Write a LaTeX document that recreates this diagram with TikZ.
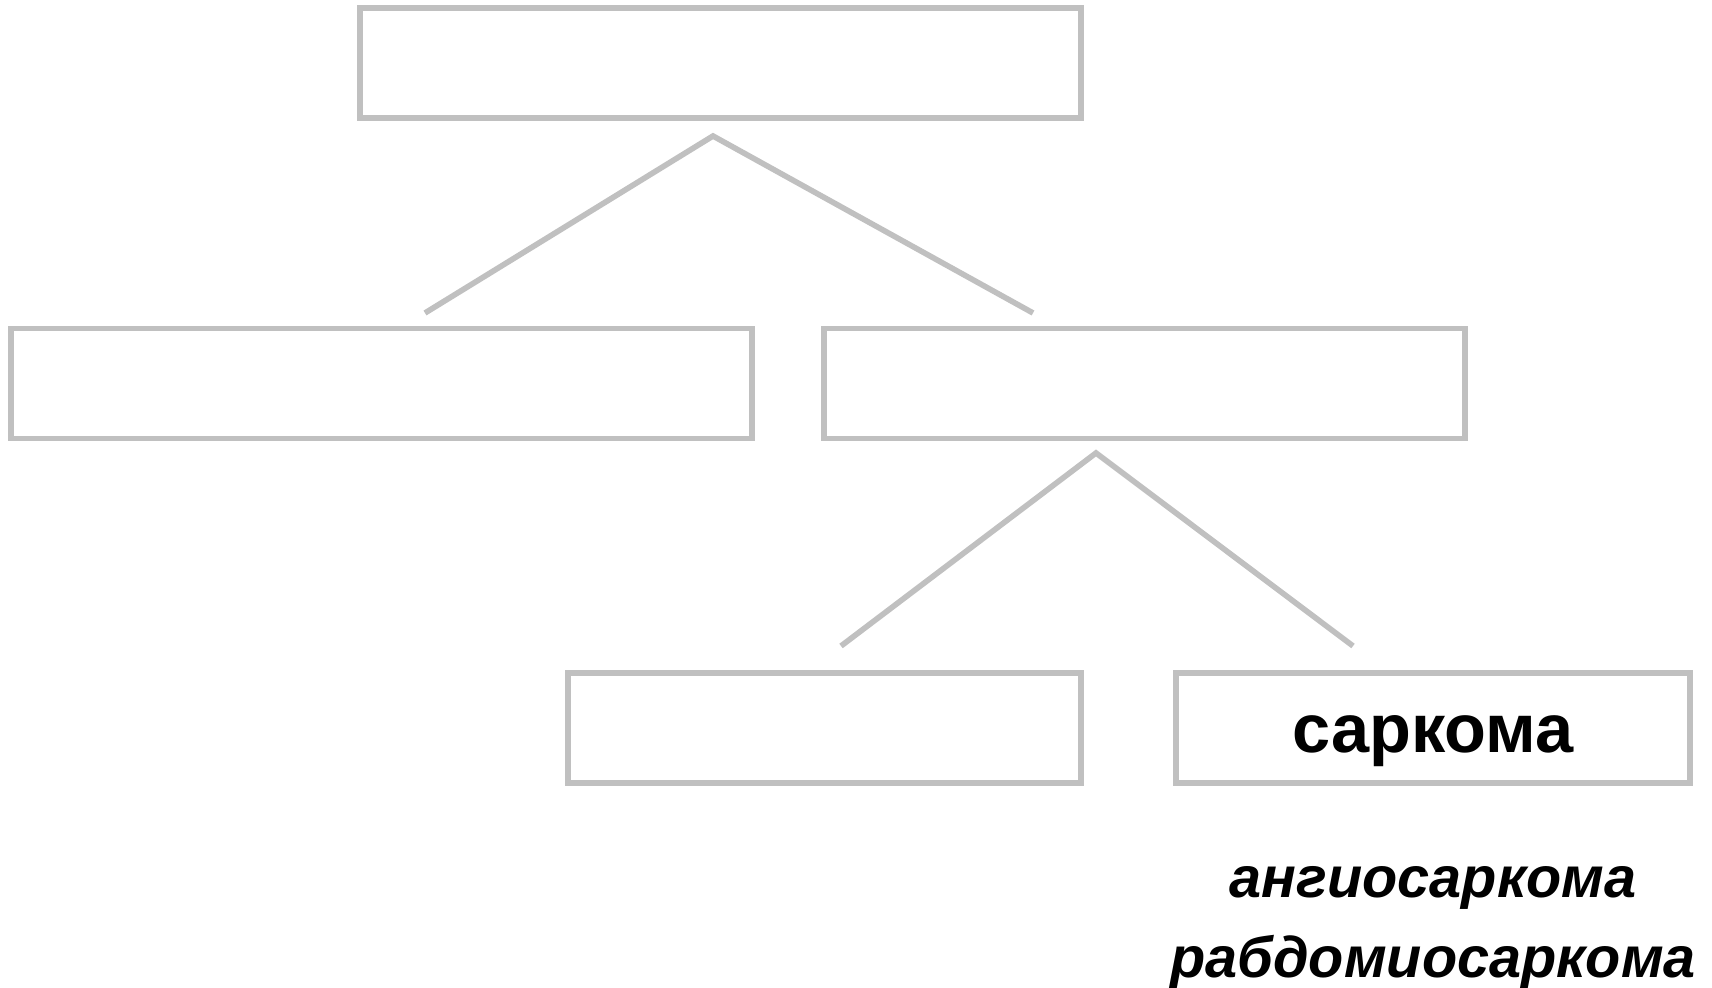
\documentclass[tikz,border=0pt]{standalone}
\usepackage{fontspec}
\setmainfont{Liberation Sans}
\usepackage{xcolor}
\usetikzlibrary{positioning}
\definecolor{boxgray}{HTML}{C0C0C0}

\begin{document}
\begin{tikzpicture}[box/.style={draw=boxgray, line width=1.6pt, minimum height=1.1cm, inner sep=0pt},
    link/.style={draw=boxgray, line width=1.6pt},
    kind/.style={font=\fontsize{16.4}{20}\selectfont\bfseries\itshape, anchor=base}]
\useasboundingbox (0,0) rectangle (17.12,9.87);
% Boxes
\node[box, minimum width=7.21cm] (top) at (7.205,9.24) {};
\node[box, minimum width=7.41cm] (left) at (3.815,6.035) {};
\node[box, minimum width=6.41cm] (right) at (11.445,6.035) {};
\node[box, minimum width=5.13cm] (benign) at (8.245,2.59) {};
\node[box, minimum width=5.14cm, font=\fontsize{19.5}{23}\selectfont\bfseries, text height=0.48cm, text depth=0pt] (sarcoma) at (14.33,2.59) {саркома};
% Branch points
\coordinate (fork1) at (7.13,8.51);
\coordinate (fork1l) at (4.25,6.74);
\coordinate (fork1r) at (10.33,6.74);
\coordinate (fork2) at (10.96,5.34);
\coordinate (fork2l) at (8.41,3.41);
\coordinate (fork2r) at (13.53,3.41);
\draw[link] (fork1l) -- (fork1) -- (fork1r);
\draw[link] (fork2l) -- (fork2) -- (fork2r);
% Kinds of sarcoma
\node[kind, below=1.12cm of sarcoma.south, anchor=base] (angio) {ангиосаркома};
\node[kind, below=0.8cm of angio.base, anchor=base] (rhabdo) {рабдомиосаркома};
\end{tikzpicture}
\end{document}
